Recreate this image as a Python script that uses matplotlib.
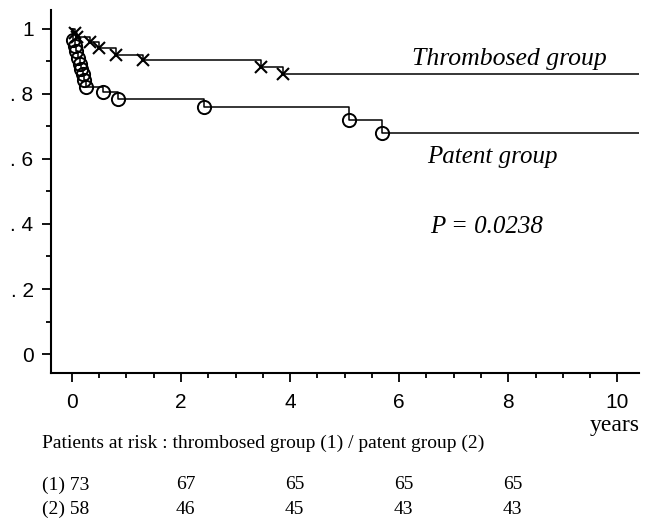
import matplotlib.pyplot as plt
from matplotlib.ticker import MultipleLocator
from matplotlib.transforms import blended_transform_factory

# Kaplan-Meier estimates
thromb_time = [0.0, 0.05, 0.1, 0.33, 0.5, 0.8, 1.3, 3.47, 3.87, 10.4]
thromb_surv = [1.0, 0.988, 0.975, 0.96, 0.94, 0.92, 0.905, 0.883, 0.86, 0.86]
patent_time = [0.0, 0.02, 0.05, 0.08, 0.11, 0.14, 0.17, 0.2, 0.23, 0.26, 0.57, 0.84, 2.42, 5.08, 5.69, 10.4]
patent_surv = [1.0, 0.965, 0.948, 0.93, 0.91, 0.893, 0.876, 0.86, 0.843, 0.822, 0.805, 0.785, 0.76, 0.72, 0.679, 0.679]

risk_years = [0, 2, 4, 6, 8]
risk_thromb = [73, 67, 65, 65, 65]
risk_patent = [58, 46, 45, 43, 43]

serif = 'Liberation Serif'
sans = 'Liberation Sans'

fig = plt.figure(figsize=(6.45, 5.18), dpi=100)
ax = fig.add_axes([0.079, 0.280, 0.912, 0.701])

ax.plot(thromb_time, thromb_surv, drawstyle='steps-post', color='black', lw=1.1)
ax.plot(thromb_time[1:-1], thromb_surv[1:-1], 'x', color='black', ms=8, mew=1.5)
ax.plot(patent_time, patent_surv, drawstyle='steps-post', color='black', lw=1.1)
ax.plot(patent_time[1:-1], patent_surv[1:-1], 'o', mfc='none', mec='black', ms=9.5, mew=1.4)

ax.set_xlim(-0.385, 10.4)
ax.set_ylim(-0.058, 1.058)
for s in ['top', 'right']:
    ax.spines[s].set_visible(False)
for s in ['left', 'bottom']:
    ax.spines[s].set_linewidth(1.5)

ax.xaxis.set_major_locator(MultipleLocator(2))
ax.xaxis.set_minor_locator(MultipleLocator(0.5))
ax.yaxis.set_minor_locator(MultipleLocator(0.1))
ax.set_yticks([0, 0.2, 0.4, 0.6, 0.8, 1.0])
ax.set_yticklabels(['0', '. 2', '. 4', '. 6', '. 8', '1'])
ax.tick_params(which='major', length=6.5, width=1.3, direction='out', labelsize=15, pad=6)
ax.tick_params(which='minor', length=3.5, width=1.3, direction='out')
ax.tick_params(axis='x', which='major', pad=8)
for lab in ax.get_xticklabels() + ax.get_yticklabels():
    lab.set_fontfamily(sans)

fig.text(0.79, 0.886, 'Thrombosed group', ha='center', va='center',
         fontsize=18.5, style='italic', family=serif)
fig.text(0.763, 0.697, 'Patent group', ha='center', va='center',
         fontsize=18, style='italic', family=serif)
fig.text(0.755, 0.562, 'P = 0.0238', ha='center', va='center',
         fontsize=18, style='italic', family=serif)

fig.text(0.953, 0.178, 'years', ha='center', va='center', fontsize=17, family=serif)
fig.text(0.065, 0.145, 'Patients at risk : thrombosed group (1) / patent group (2)',
         ha='left', va='center', fontsize=14, family=serif)

tr = blended_transform_factory(ax.transData, fig.transFigure)
for i, (yr, a, b) in enumerate(zip(risk_years, risk_thromb, risk_patent)):
    if i == 0:
        fig.text(0.065, 0.064, f'(1) {a}', ha='left', va='center', fontsize=14, family=serif)
        fig.text(0.065, 0.017, f'(2) {b}', ha='left', va='center', fontsize=14, family=serif)
        continue
    ax.text(yr + 0.08, 0.064, str(a), transform=tr, ha='center', va='center',
            fontsize=14, family=serif, clip_on=False)
    ax.text(yr + 0.08, 0.017, str(b), transform=tr, ha='center', va='center',
            fontsize=14, family=serif, clip_on=False)

fig.savefig('out.png', dpi=100)
